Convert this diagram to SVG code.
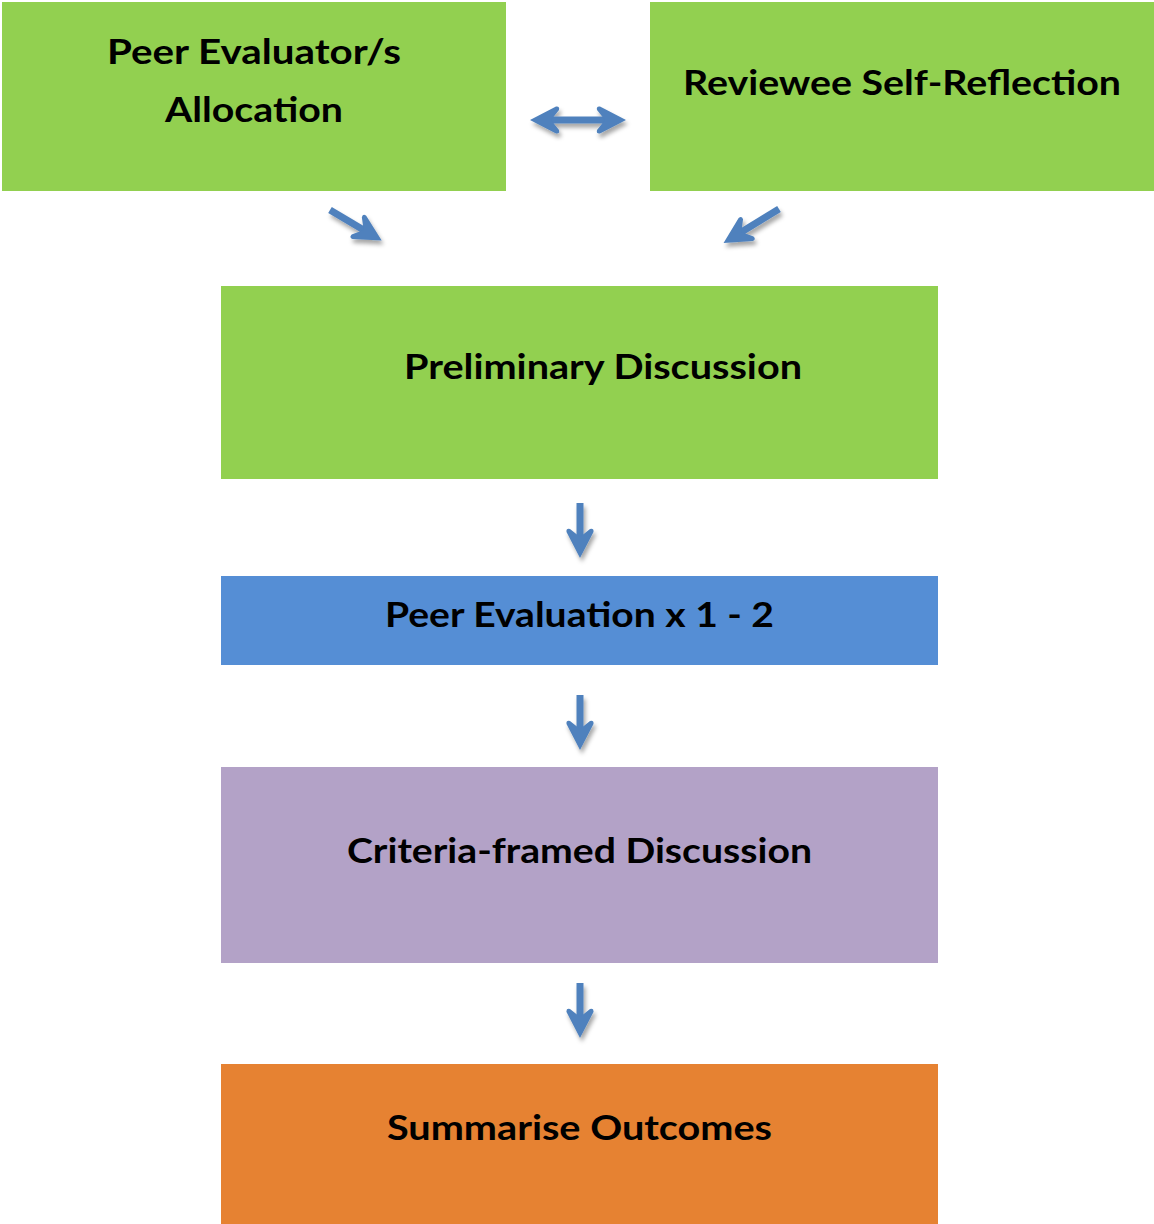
<svg xmlns="http://www.w3.org/2000/svg" width="1154" height="1224" viewBox="0 0 1154 1224">
  <style>
    .lbl { font-family: Lato, "Open Sans", "Liberation Sans", sans-serif; font-weight: 700; font-size: 34px; fill: #000; }
    .green { fill: #92D050; }
    .blue { fill: #558ED5; }
    .purple { fill: #B3A2C7; }
    .orange { fill: #E68232; }
    .conn { fill: none; stroke: #4F81BD; stroke-width: 7; }
  </style>
  <defs>
    <filter id="shadow" x="-50%" y="-50%" width="200%" height="200%">
      <feDropShadow dx="2" dy="4" stdDeviation="2" flood-color="#000" flood-opacity="0.35"/>
    </filter>
    <marker id="head" markerUnits="userSpaceOnUse" orient="auto-start-reverse" viewBox="-32 -16 34 32" refX="-20" refY="0" markerWidth="34" markerHeight="32">
      <path d="M0,0 L-26,-13.5 Q-30,-14 -29,-10 L-21,0 L-29,10 Q-30,14 -26,13.5 Z" fill="#4F81BD"/>
    </marker>
  </defs>

  <g id="node-allocation">
    <rect class="green" x="2" y="2" width="504" height="189"/>
    <text class="lbl" x="254" y="64" text-anchor="middle" textLength="294" lengthAdjust="spacingAndGlyphs">Peer Evaluator/s</text>
    <text class="lbl" x="254" y="122" text-anchor="middle" textLength="178" lengthAdjust="spacingAndGlyphs">Allocation</text>
  </g>
  <g id="node-self-reflection">
    <rect class="green" x="650" y="2" width="504" height="189"/>
    <text class="lbl" x="902" y="95" text-anchor="middle" textLength="438" lengthAdjust="spacingAndGlyphs">Reviewee Self-Reflection</text>
  </g>
  <g id="node-preliminary">
    <rect class="green" x="221" y="286" width="717" height="193"/>
    <text class="lbl" x="603" y="379" text-anchor="middle" textLength="398" lengthAdjust="spacingAndGlyphs">Preliminary Discussion</text>
  </g>
  <g id="node-peer-evaluation">
    <rect class="blue" x="221" y="576" width="717" height="89"/>
    <text class="lbl" x="579.5" y="627" text-anchor="middle" textLength="389" lengthAdjust="spacingAndGlyphs">Peer Evaluation x 1 - 2</text>
  </g>
  <g id="node-criteria">
    <rect class="purple" x="221" y="767" width="717" height="196"/>
    <text class="lbl" x="579.5" y="863" text-anchor="middle" textLength="465" lengthAdjust="spacingAndGlyphs">Criteria-framed Discussion</text>
  </g>
  <g id="node-summarise">
    <rect class="orange" x="221" y="1064" width="717" height="160"/>
    <text class="lbl" x="579.5" y="1140" text-anchor="middle" textLength="385" lengthAdjust="spacingAndGlyphs">Summarise Outcomes</text>
  </g>

  <!-- connectors: line ends sit inside the heads; the heads extend 20px beyond -->
  <g id="connectors" filter="url(#shadow)">
    <path class="conn" d="M550,120 L606,120" marker-start="url(#head)" marker-end="url(#head)"/>
    <path class="conn" d="M330,210 L364.5,230.4" marker-end="url(#head)"/>
    <path class="conn" d="M779,209 L740.6,232.6" marker-end="url(#head)"/>
    <path class="conn" d="M580,503 L580,538" marker-end="url(#head)"/>
    <path class="conn" d="M580,695 L580,730" marker-end="url(#head)"/>
    <path class="conn" d="M580,983 L580,1018" marker-end="url(#head)"/>
  </g>
</svg>
